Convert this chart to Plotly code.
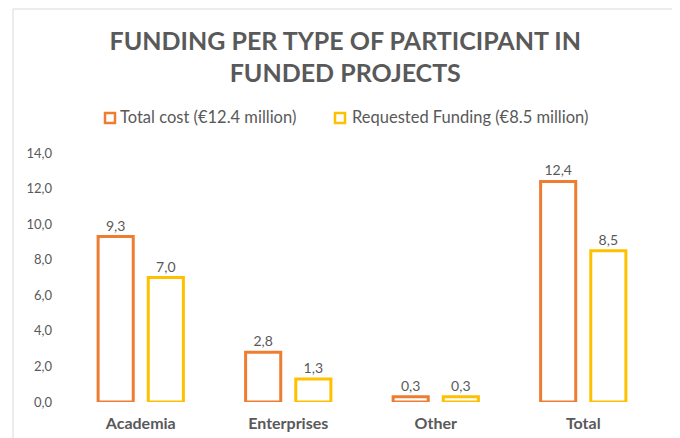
import plotly.graph_objects as go

categories = ["Academia", "Enterprises", "Other", "Total"]
total_cost = [9.3, 2.8, 0.3, 12.4]
requested_funding = [7.0, 1.3, 0.3, 8.5]
series_names = ["Total cost (€12.4 million)", "Requested Funding (€8.5 million)"]

ORANGE = "#ED7D31"
YELLOW = "#FFC000"
GRAY = "#595959"
FONT = "Lato"

# plot area geometry (figure pixels)
L, R, T, B = 59, 31, 145, 44
W, H = 680, 438
PW, PH = W - L - R, H - T - B


def px(x):
    return (x - L) / PW


def py(y):
    return (H - B - y) / PH


fig = go.Figure()
for name, vals, col in [(series_names[0], total_cost, ORANGE),
                        (series_names[1], requested_funding, YELLOW)]:
    fig.add_trace(go.Bar(
        x=categories, y=vals, name=name,
        marker=dict(color="white", line=dict(color=col, width=3)),
        texttemplate="%{y:.1f}", textposition="outside",
        textfont=dict(color=GRAY, size=14, family=FONT),
        cliponaxis=False, showlegend=False,
    ))

fig.update_layout(
    width=W, height=H,
    margin=dict(l=L, r=R, t=T, b=B),
    paper_bgcolor="white", plot_bgcolor="white",
    separators=", ",
    barmode="group", bargap=0.32, bargroupgap=0.3,
    title=dict(text="FUNDING PER TYPE OF PARTICIPANT IN<br>FUNDED PROJECTS",
               xref="container", x=0.496, xanchor="center",
               yref="container", y=0.905, yanchor="top",
               font=dict(family=FONT, size=25, color=GRAY, weight="bold")),
    showlegend=False,
    font=dict(family=FONT, color=GRAY),
)
fig.update_xaxes(showgrid=False, showline=False, zeroline=False, ticks="",
                 ticklabelstandoff=10,
                 tickfont=dict(family=FONT, size=16, color=GRAY, weight="bold"))
fig.update_yaxes(range=[0, 14], dtick=2, tickformat=".1f", showgrid=False,
                 zeroline=False, showline=False, ticks="", ticklabelstandoff=14,
                 tickfont=dict(family=FONT, size=13, color=GRAY))

# outer chart border
fig.add_shape(type="rect", xref="paper", yref="paper",
              x0=px(5), x1=px(667), y0=py(460), y1=py(1),
              line=dict(color="#D9D9D9", width=1), layer="below")

# manual legend
legend_items = [(series_names[0], ORANGE, 97, 110),
                (series_names[1], YELLOW, 327, 342)]
for name, col, sx, tx in legend_items:
    fig.add_shape(type="rect", xref="paper", yref="paper",
                  x0=px(sx), x1=px(sx + 10), y0=py(115), y1=py(105),
                  line=dict(color=col, width=2.5), fillcolor="white")
    fig.add_annotation(text=name, xref="paper", yref="paper",
                       x=px(tx), y=py(109), xanchor="left", yanchor="middle",
                       showarrow=False,
                       font=dict(family=FONT, size=16.5, color=GRAY))

fig.write_html("out.html")
